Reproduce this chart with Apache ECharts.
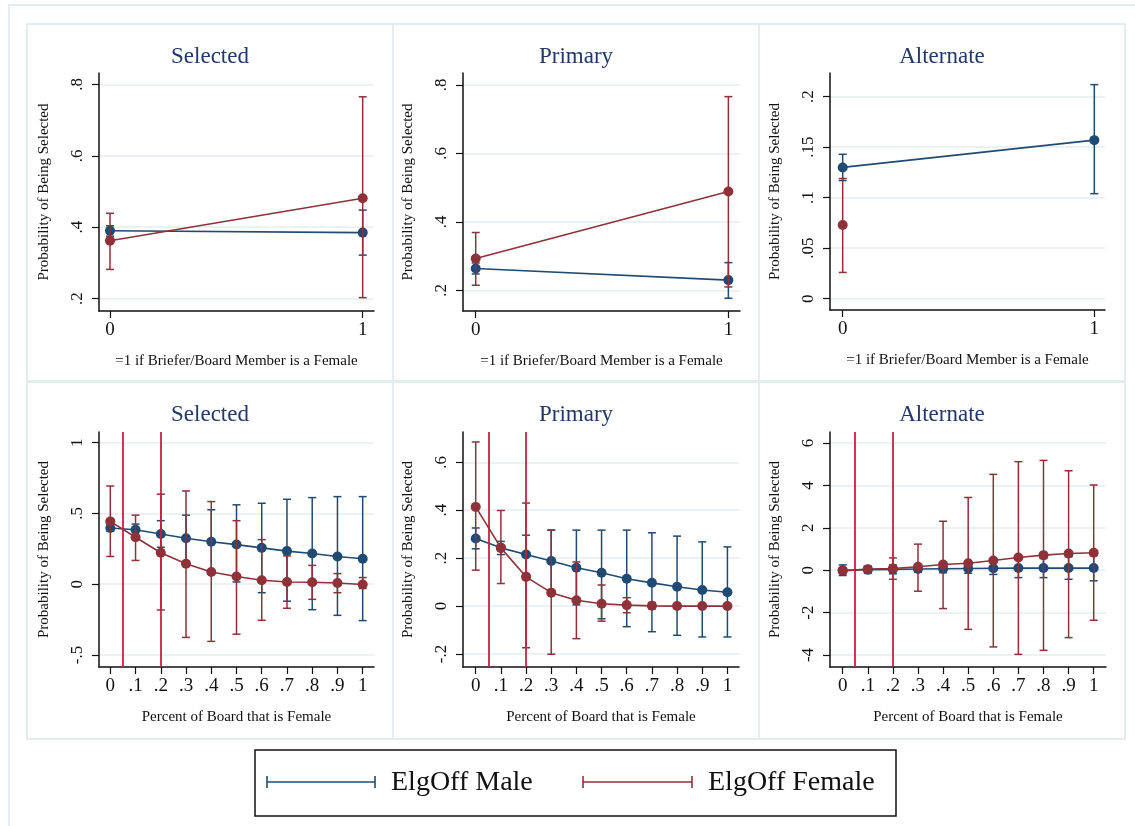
<!DOCTYPE html>
<html><head><meta charset="utf-8">
<script src="https://cdn.jsdelivr.net/npm/echarts@6/dist/echarts.min.js"></script>
<style>html,body{margin:0;padding:0;background:#fff}#c{width:1135px;height:826px}</style>
</head><body><div id="c"></div>
<script>
// ---------------- DATA ----------------
const panelTitles = ['Selected', 'Primary', 'Alternate', 'Selected', 'Primary', 'Alternate'];
const topXTitle = '=1 if Briefer/Board Member is a Female';
const bottomXTitle = 'Percent of Board that is Female';
const yTitle = 'Probability of Being Selected';
const seriesNames = ['ElgOff Male', 'ElgOff Female'];

const topX = [0, 1];
const bottomX = [0, 0.1, 0.2, 0.3, 0.4, 0.5, 0.6, 0.7, 0.8, 0.9, 1];
const topXTicks = [0, 1];
const bottomXTicks = [0, 0.1, 0.2, 0.3, 0.4, 0.5, 0.6, 0.7, 0.8, 0.9, 1];
const yTicksSelTop = [0.2, 0.4, 0.6, 0.8];
const yTicksPriTop = [0.2, 0.4, 0.6, 0.8];
const yTicksAltTop = [0, 0.05, 0.1, 0.15, 0.2];
const yTicksSelBot = [-0.5, 0, 0.5, 1];
const yTicksPriBot = [-0.2, 0, 0.2, 0.4, 0.6];
const yTicksAltBot = [-4, -2, 0, 2, 4, 6];
const cutoffs = [0.05, 0.2];

// Top: Selected
const selTopMaleEst = [0.390, 0.385];
const selTopMaleLo  = [0.375, 0.322];
const selTopMaleHi  = [0.404, 0.448];
const selTopFemEst  = [0.362, 0.481];
const selTopFemLo   = [0.282, 0.203];
const selTopFemHi   = [0.439, 0.765];
// Top: Primary
const priTopMaleEst = [0.264, 0.230];
const priTopMaleLo  = [0.248, 0.177];
const priTopMaleHi  = [0.280, 0.281];
const priTopFemEst  = [0.293, 0.489];
const priTopFemLo   = [0.215, 0.210];
const priTopFemHi   = [0.369, 0.766];
// Top: Alternate
const altTopMaleEst = [0.130, 0.157];
const altTopMaleLo  = [0.117, 0.104];
const altTopMaleHi  = [0.143, 0.212];
const altTopFemEst  = [0.073, null];
const altTopFemLo   = [0.026, null];
const altTopFemHi   = [0.119, null];
// Bottom: Selected
const selBotMaleEst = [0.397, 0.385, 0.355, 0.325, 0.300, 0.280, 0.257, 0.234, 0.217, 0.196, 0.180];
const selBotMaleLo  = [0.374, 0.345, 0.261, 0.162, 0.074, 0.016, -0.060, -0.120, -0.180, -0.220, -0.257];
const selBotMaleHi  = [0.420, 0.425, 0.449, 0.488, 0.526, 0.561, 0.572, 0.600, 0.612, 0.619, 0.619];
const selBotFemEst  = [0.444, 0.332, 0.222, 0.145, 0.086, 0.054, 0.028, 0.016, 0.014, 0.009, -0.002];
const selBotFemLo   = [0.196, 0.168, -0.182, -0.376, -0.404, -0.353, -0.255, -0.170, -0.107, -0.060, -0.030];
const selBotFemHi   = [0.694, 0.488, 0.636, 0.659, 0.584, 0.449, 0.315, 0.200, 0.133, 0.075, 0.047];
// Bottom: Primary
const priBotMaleEst = [0.282, 0.243, 0.215, 0.188, 0.160, 0.139, 0.114, 0.097, 0.081, 0.067, 0.058];
const priBotMaleLo  = [0.239, 0.215, 0.134, 0.058, 0.005, -0.053, -0.086, -0.107, -0.122, -0.129, -0.129];
const priBotMaleHi  = [0.326, 0.270, 0.296, 0.317, 0.317, 0.317, 0.317, 0.306, 0.292, 0.268, 0.247];
const priBotFemEst  = [0.414, 0.243, 0.122, 0.056, 0.024, 0.010, 0.004, 0.001, 0.000, 0.000, 0.000];
const priBotFemLo   = [0.150, 0.094, -0.174, -0.201, -0.136, -0.063, -0.028, -0.012, -0.008, -0.005, -0.003];
const priBotFemHi   = [0.685, 0.399, 0.430, 0.317, 0.184, 0.088, 0.035, 0.015, 0.008, 0.005, 0.003];
// Bottom: Alternate
const altBotMaleEst = [0.00, 0.02, 0.04, 0.06, 0.07, 0.08, 0.09, 0.10, 0.10, 0.10, 0.10];
const altBotMaleLo  = [-0.25, -0.15, -0.17, -0.10, -0.12, -0.14, -0.20, -0.35, -0.35, -0.43, -0.50];
const altBotMaleHi  = [0.25, 0.19, 0.25, 0.22, 0.26, 0.30, 0.38, 0.55, 0.55, 0.63, 0.70];
const altBotFemEst  = [-0.03, 0.05, 0.08, 0.16, 0.27, 0.33, 0.46, 0.60, 0.71, 0.79, 0.82];
const altBotFemLo   = [-0.16, -0.02, -0.43, -0.99, -1.81, -2.79, -3.62, -3.97, -3.78, -3.18, -2.36];
const altBotFemHi   = [0.10, 0.12, 0.58, 1.23, 2.31, 3.43, 4.52, 5.12, 5.18, 4.69, 4.02];

// ---------------- LAYOUT / STYLE ----------------
const BLUE = '#1f4a73';
const RED = '#8e3138';
const CUT = '#cf1d42';
const FRAME = '#e3ecef';
const GRIDC = '#e6eef1';
const SERIF = '"Liberation Serif", "Times New Roman", serif';

const panels = [
  {x: topX, ticks: topXTicks, yt: yTicksSelTop, xt: topXTitle, m: [selTopMaleEst, selTopMaleLo, selTopMaleHi], f: [selTopFemEst, selTopFemLo, selTopFemHi],
   box: [99, 73, 374, 311], xr: [-0.0435, 1.0447], yr: [0.1656, 0.8316], cut: false},
  {x: topX, ticks: topXTicks, yt: yTicksPriTop, xt: topXTitle, m: [priTopMaleEst, priTopMaleLo, priTopMaleHi], f: [priTopFemEst, priTopFemLo, priTopFemHi],
   box: [463, 73, 740, 311], xr: [-0.0503, 1.046], yr: [0.1397, 0.835], cut: false},
  {x: topX, ticks: topXTicks, yt: yTicksAltTop, xt: topXTitle, m: [altTopMaleEst, altTopMaleLo, altTopMaleHi], f: [altTopFemEst, altTopFemLo, altTopFemHi],
   box: [830, 73, 1105, 310], xr: [-0.0505, 1.0425], yr: [-0.0112, 0.2235], cut: false},
  {x: bottomX, ticks: bottomXTicks, yt: yTicksSelBot, xt: bottomXTitle, m: [selBotMaleEst, selBotMaleLo, selBotMaleHi], f: [selBotFemEst, selBotFemLo, selBotFemHi],
   box: [99, 432, 374, 667], xr: [-0.0448, 1.0448], yr: [-0.585, 1.0756], cut: true},
  {x: bottomX, ticks: bottomXTicks, yt: yTicksPriBot, xt: bottomXTitle, m: [priBotMaleEst, priBotMaleLo, priBotMaleHi], f: [priBotFemEst, priBotFemLo, priBotFemHi],
   box: [463, 432, 739, 667], xr: [-0.0505, 1.046], yr: [-0.2543, 0.7266], cut: true},
  {x: bottomX, ticks: bottomXTicks, yt: yTicksAltBot, xt: bottomXTitle, m: [altBotMaleEst, altBotMaleLo, altBotMaleHi], f: [altBotFemEst, altBotFemLo, altBotFemHi],
   box: [830, 432, 1106, 667], xr: [-0.0505, 1.049], yr: [-4.566, 6.519], cut: true}
];

function fmt(v) {
  let s = String(+(+v).toFixed(3));
  return s.replace(/^(-?)0\./, '$1.');
}

function errRender(color) {
  return function (params, api) {
    const x = api.value(0), lo = api.value(1), hi = api.value(2);
    const p1 = api.coord([x, lo]), p2 = api.coord([x, hi]);
    const w = 4;
    const st = {stroke: color, lineWidth: 1.5, fill: null};
    return {type: 'group', children: [
      {type: 'line', shape: {x1: p1[0], y1: p1[1], x2: p2[0], y2: p2[1]}, style: st},
      {type: 'line', shape: {x1: p1[0] - w, y1: p1[1], x2: p1[0] + w, y2: p1[1]}, style: st},
      {type: 'line', shape: {x1: p2[0] - w, y1: p2[1], x2: p2[0] + w, y2: p2[1]}, style: st}
    ]};
  };
}

const grids = [], xAxes = [], yAxes = [], series = [];
panels.forEach((p, i) => {
  const [l, t, r, b] = p.box;
  grids.push({left: l, top: t, width: r - l, height: b - t, containLabel: false});
  xAxes.push({
    type: 'value', gridIndex: i, min: p.xr[0], max: p.xr[1],
    axisLine: {show: true, onZero: false, lineStyle: {color: '#111', width: 1.5}},
    axisTick: {show: true, length: 7, customValues: p.ticks, lineStyle: {color: '#111', width: 1.2}},
    axisLabel: {customValues: p.ticks, formatter: fmt, fontFamily: SERIF, fontSize: 19, color: '#111', margin: 10},
    splitLine: {show: false},
    name: p.xt, nameLocation: 'middle', nameGap: 43,
    nameTextStyle: {fontFamily: SERIF, fontSize: 15, color: '#111'}
  });
  yAxes.push({
    type: 'value', gridIndex: i, min: p.yr[0], max: p.yr[1],
    axisLine: {show: true, onZero: false, lineStyle: {color: '#111', width: 1.5}},
    axisTick: {show: true, length: 7, customValues: p.yt, lineStyle: {color: '#111', width: 1.2}},
    axisLabel: {customValues: p.yt, formatter: fmt, rotate: 90, fontFamily: SERIF, fontSize: 17, color: '#111', margin: 13},
    splitLine: {show: true, lineStyle: {color: GRIDC, width: 1.5}},
    name: yTitle, nameLocation: 'middle', nameGap: 47, nameRotate: 90,
    nameTextStyle: {fontFamily: SERIF, fontSize: 15, color: '#111'}
  });
  const groups = [[p.m, BLUE, seriesNames[0]], [p.f, RED, seriesNames[1]]];
  groups.forEach(([arr, color, name], gi) => {
    const [est, lo, hi] = arr;
    const eb = [], ln = [];
    p.x.forEach((xv, k) => {
      if (lo[k] != null && hi[k] != null) eb.push([xv, lo[k], hi[k]]);
      ln.push([xv, est[k]]);
    });
    series.push({
      type: 'custom', name: name, xAxisIndex: i, yAxisIndex: i, data: eb,
      renderItem: errRender(color), encode: {x: 0, y: [1, 2]}, silent: true, z: 2 + gi * 2
    });
    const s = {
      type: 'line', name: name, xAxisIndex: i, yAxisIndex: i, data: ln,
      symbol: 'circle', symbolSize: 10, showSymbol: true, connectNulls: false,
      lineStyle: {color: color, width: 1.6}, itemStyle: {color: color},
      silent: true, animation: false, z: 3 + gi * 2
    };
    if (gi === 1 && p.cut) {
      s.markLine = {
        symbol: 'none', silent: true, animation: false,
        label: {show: false},
        lineStyle: {color: CUT, width: 1.8, type: 'solid'},
        data: cutoffs.map(c => ({xAxis: c}))
      };
    }
    series.push(s);
  });
});

// graphics: frames, titles, legend
const graphics = [];
graphics.push({type: 'rect', z: -10, shape: {x: 9, y: 5, width: 1150, height: 850}, style: {fill: 'none', stroke: FRAME, lineWidth: 2}});
const cellX = [27, 393, 759], cellY = [24, 382];
cellY.forEach(cy => cellX.forEach(cx => {
  graphics.push({type: 'rect', z: -10, shape: {x: cx, y: cy, width: 366, height: 357}, style: {fill: 'none', stroke: FRAME, lineWidth: 2}});
}));
const titleCX = [210, 576, 942], titleCY = [57, 415];
panelTitles.forEach((tt, i) => {
  graphics.push({type: 'text', z: 10, x: titleCX[i % 3], y: titleCY[Math.floor(i / 3)],
    style: {text: tt, font: '23px ' + SERIF, fill: '#22376a', textAlign: 'center', textVerticalAlign: 'middle', align: 'center', verticalAlign: 'middle'}});
});
// legend
graphics.push({type: 'rect', z: 10, shape: {x: 255, y: 750, width: 641, height: 66}, style: {fill: '#fff', stroke: '#111', lineWidth: 1.5}});
const legItems = [[267, 375, 391, BLUE], [583, 692, 708, RED]];
legItems.forEach(([x1, x2, tx, col], k) => {
  const st = {stroke: col, lineWidth: 1.6};
  graphics.push({type: 'line', z: 11, shape: {x1: x1, y1: 782, x2: x2, y2: 782}, style: st});
  graphics.push({type: 'line', z: 11, shape: {x1: x1, y1: 776, x2: x1, y2: 788}, style: st});
  graphics.push({type: 'line', z: 11, shape: {x1: x2, y1: 776, x2: x2, y2: 788}, style: st});
  graphics.push({type: 'text', z: 11, x: tx, y: 783,
    style: {text: seriesNames[k], font: '28px ' + SERIF, fill: '#111', textAlign: 'left', textVerticalAlign: 'middle', align: 'left', verticalAlign: 'middle'}});
});

const chart = echarts.init(document.getElementById('c'), null, {renderer: 'canvas'});
chart.setOption({
  animation: false,
  backgroundColor: '#fff',
  grid: grids, xAxis: xAxes, yAxis: yAxes, series: series,
  graphic: {elements: graphics}
});
</script>
</body></html>
